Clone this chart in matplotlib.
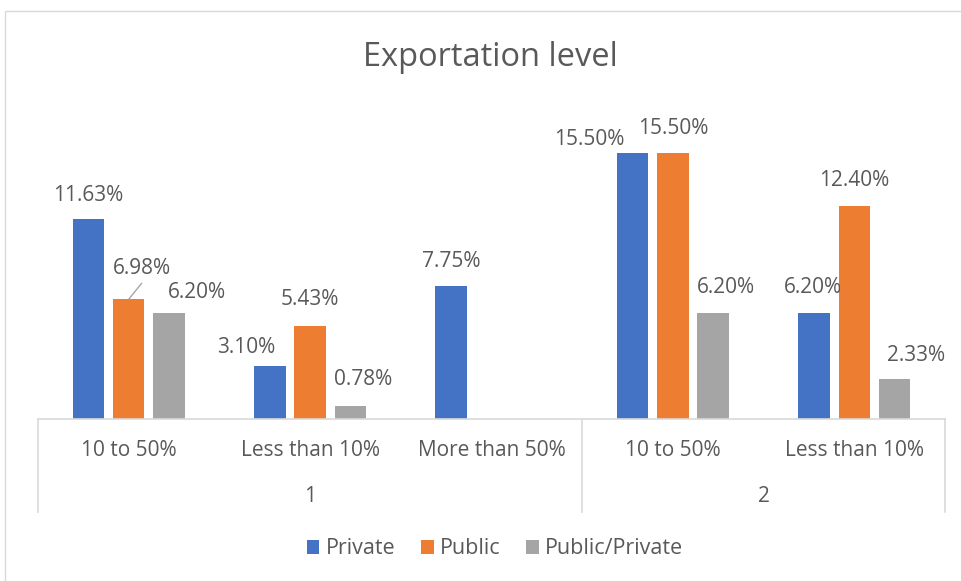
import numpy as np
import matplotlib
matplotlib.use("Agg")
from matplotlib import pyplot as plt
from matplotlib.transforms import blended_transform_factory
from matplotlib.patches import Rectangle, Patch

groups = ["1", "2"]
group_sizes = [3, 2]
categories = ["10 to 50%", "Less than 10%", "More than 50%", "10 to 50%", "Less than 10%"]
series = ["Private", "Public", "Public/Private"]
private = [11.63, 3.10, 7.75, 15.50, 6.20]
public = [6.98, 5.43, 0.0, 15.50, 12.40]
public_private = [6.20, 0.78, 0.0, 6.20, 2.33]

colors = ["#4472C4", "#ED7D31", "#A5A5A5"]
text_color = "#595959"
line_color = "#D9D9D9"

# label nudges in pixels (dx, dy of label centre above bar top), like the excel layout
offsets = [
    [(0, 24), (-24, 18), (0, 25), (-43, 14), (-1, 25)],
    [(13, 31), (0, 26), (0, 25), (0, 25), (0, 26)],
    [(28, 20), (13, 26), (0, 25), (13, 25), (21, 24)],
]

plt.rcParams['font.family'] = ['Open Sans', 'DejaVu Sans']

W, H = 962, 581
fig = plt.figure(figsize=(W / 100, H / 100), dpi=100)

# chart border (only left and top visible)
fig.patches.append(Rectangle((5 / W, -0.1), 1.2, 1 - 11 / H + 0.1, transform=fig.transFigure,
                             fill=False, edgecolor=line_color, linewidth=1.0))

left, right, base, top = 38, 945, 419, 100
ax = fig.add_axes([left / W, 1 - base / H, (right - left) / W, (base - top) / H])
ax.set_xlim(-0.5, len(categories) - 0.5)
ax.set_ylim(0, 18.59)
ax.axis("off")

x = np.arange(len(categories))
width = 0.174
step = 0.222
values = [private, public, public_private]
for j, vals in enumerate(values):
    xs = x + (j - 1) * step
    ax.bar(xs, vals, width, color=colors[j], label=series[j], zorder=2)
    for i, v in enumerate(vals):
        if v == 0:
            continue
        dx, dy = offsets[j][i]
        ax.annotate("%.2f%%" % v, (xs[i], v), xytext=(dx, dy), textcoords="offset pixels",
                    ha="center", va="center", fontsize=15, color=text_color)
        if j == 1 and i == 0:
            # leader line for the moved label
            ax.annotate("", (xs[i], v), xytext=(dx, dy - 15), textcoords="offset pixels",
                        arrowprops=dict(arrowstyle="-", color="#A6A6A6", lw=1, shrinkA=0, shrinkB=0))

# multi-level category axis
tr = blended_transform_factory(ax.transData, ax.transAxes)
depth = -(512 - base) / (base - top)
ax.plot([-0.5, len(categories) - 0.5], [0, 0], transform=tr, color=line_color, lw=1.2, clip_on=False)
edges = np.concatenate([[0], np.cumsum(group_sizes)]) - 0.5
for e in edges:
    ax.plot([e, e], [0, depth], transform=tr, color=line_color, lw=1.2, clip_on=False)
for i, c in enumerate(categories):
    ax.text(i, -(450 - base) / (base - top), c, transform=tr, ha="center", va="center",
            fontsize=15, color=text_color)
for g, name in enumerate(groups):
    ax.text((edges[g] + edges[g + 1]) / 2, -(497 - base) / (base - top), name, transform=tr,
            ha="center", va="center", fontsize=15, color=text_color)

fig.text(490 / W, 1 - 57 / H, "Exportation level", ha="center", va="center",
         fontsize=23.5, color=text_color)

handles = [Patch(facecolor=colors[j]) for j in range(3)]
fig.legend(handles, series, loc="center", bbox_to_anchor=(495 / W, 1 - 549 / H), ncol=3,
           frameon=False, fontsize=15.5, labelcolor=text_color, handlelength=0.6,
           handleheight=0.6, handletextpad=0.28, columnspacing=1.2)

fig.savefig("out.png", dpi=100)
